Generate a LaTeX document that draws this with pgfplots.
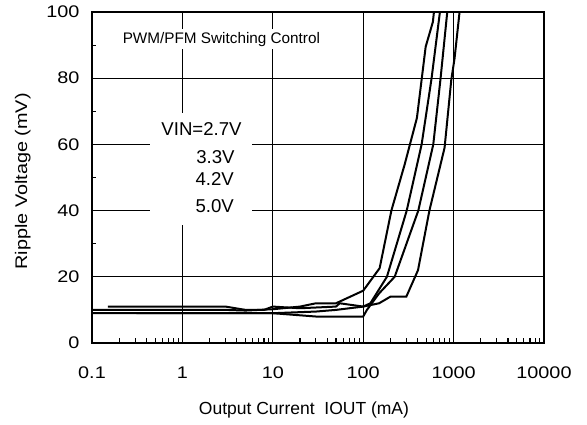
\documentclass[border=0pt]{standalone}
\usepackage{fontspec}
\setmainfont{Liberation Sans}
\newfontfamily\widefont{Liberation Sans}[FakeStretch=1.18]
\usepackage{pgfplots}
\pgfplotsset{compat=1.18}
\begin{document}
\begin{tikzpicture}
\useasboundingbox (-92pt,-82pt) rectangle (495pt,343pt);
\begin{axis}[
  scale only axis, width=452pt, height=331pt,
  xmode=log, log basis x=10,
  xmin=0.1, xmax=10000, ymin=0, ymax=100,
  xtick={0.1,1,10,100,1000,10000},
  xticklabels={0.1,1,10,100,1000,10000},
  minor xtick={0.2,0.3,0.4,0.5,0.6,0.7,0.8,0.9,2,3,4,5,6,7,8,9,20,30,40,50,60,70,80,90,200,300,400,500,600,700,800,900,2000,3000,4000,5000,6000,7000,8000,9000},
  ytick={0,20,40,60,80,100},
  yticklabels={0,20,40,60,80,100},
  minor ytick={10,30,50,70,90},
  grid=major,
  major grid style={black, line width=0.6pt},
  axis line style={line width=1.8pt},
  tick align=inside,
  major tick length=0pt,
  minor tick length=4.5pt,
  xtick pos=bottom, ytick pos=left,
  minor tick style={line width=1.1pt, black},
  /pgf/number format/assume math mode=true,
  ticklabel style={font=\widefont\fontsize{16.8}{18}\selectfont},
  xticklabel style={yshift=-20pt},
  yticklabel style={xshift=-9pt},
  xlabel={Output Current\ \ IOUT (mA)},
  xlabel style={at={(axis description cs:0.469,-0.202)}, anchor=center, font=\fontsize{17.5}{20}\selectfont},
  ylabel={Ripple Voltage (mV)},
  ylabel style={at={(axis description cs:-0.153,0.488)}, anchor=center, font=\widefont\fontsize{16.8}{18}\selectfont},
]
\fill[white] (axis cs:0.4375,35.6) rectangle (axis cs:5.86,69.5);
\node[anchor=east, inner sep=0pt, font=\fontsize{18.6}{20}\selectfont] at (axis cs:4.54,64.65) {VIN=2.7V};
\node[anchor=east, inner sep=0pt, font=\fontsize{18.6}{20}\selectfont] at (axis cs:3.80,56.2) {3.3V};
\node[anchor=east, inner sep=0pt, font=\fontsize{18.6}{20}\selectfont] at (axis cs:3.72,49.5) {4.2V};
\node[anchor=east, inner sep=0pt, font=\fontsize{18.6}{20}\selectfont] at (axis cs:3.72,41.4) {5.0V};
\node[fill=white, inner sep=3pt, font=\fontsize{15.3}{17}\selectfont] at (axis cs:2.70,91.8) {PWM/PFM Switching Control};
\addplot[black, line width=2pt] coordinates {
 (0.1,10) (3,10) (5,9.8) (10,10.2) (20,11) (30,12) (50,12) (100,15.8) (152,22.6) (205,40) (288,54) (393,68) (491,89.5) (590,97) (606,100)};
\addplot[black, line width=2pt] coordinates {
 (0.15,11) (3,11) (5,10) (8,10) (10,11) (20,10.5) (50,11) (55,12) (100,11) (120,12) (183,20) (303,40) (443,60) (571,80) (706,100)};
\addplot[black, line width=2pt] coordinates {
 (0.1,9) (10,9) (30,8) (100,8) (110,10) (150,15) (223,20) (407,40) (596,60) (718,80) (851,100)};
\addplot[black, line width=2pt] coordinates {
 (0.31,9) (10,9) (30,9.5) (50,10) (100,11) (150,12) (200,14) (300,14) (404,22) (540,40) (795,59) (943,79.5) (1025,86) (1164,100)};
\end{axis}
\end{tikzpicture}
\end{document}
